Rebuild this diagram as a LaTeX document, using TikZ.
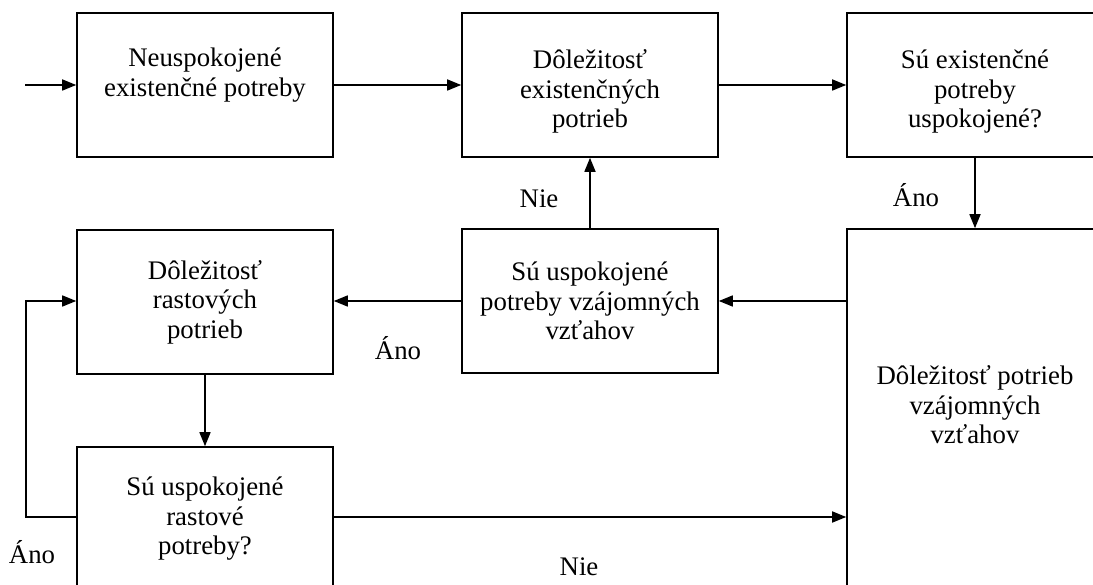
\documentclass[tikz,border=0pt]{standalone}
\usepackage{fontspec}
\setmainfont{Liberation Serif}
\usetikzlibrary{arrows.meta,fit}
\begin{document}
\begin{tikzpicture}[x=1pt,y=-1pt,
  every node/.style={font=\fontsize{26.8}{29.5}\selectfont},
  box/.style={draw, line width=1.6pt, minimum width=256pt, minimum height=144pt,
    align=center, inner sep=0pt},
  % text of the top row sits a little below the middle of its box
  toprow/.style={text height=92pt, text depth=6pt},
  toprowtwo/.style={text height=29pt, text depth=6pt},
  flow/.style={line width=1.6pt, -{Triangle[length=14pt,width=11pt]}},
  tag/.style={anchor=base, inner sep=0pt}]
\useasboundingbox (0,0) rectangle (1093,585);
\clip (0,0) rectangle (1093,585);

% top row
\node[box, toprowtwo] (b1) at (205,85) {Neuspokojené\\existenčné potreby};
\node[box, toprow] (b2) at (590,85) {Dôležitosť\\existenčných\\potrieb};
\node[box, toprow] (b3) at (975,85) {Sú existenčné\\potreby\\uspokojené?};

% middle row
\node[box] (b4) at (205,302) {Dôležitosť\\rastových\\potrieb};
\node[box] (b5) at (590,301) {Sú uspokojené\\potreby vzájomných\\vzťahov};

% tall box on the right and its caption
\node[draw, line width=1.6pt, inner sep=0pt, fit={(847,229) (1103,640)}] (b6) {};
\node[align=center, inner sep=0pt] (b6text) at (975,405) {Dôležitosť potrieb\\vzájomných\\vzťahov};

% bottom box
\node[box] (b7) at (205,519) {Sú uspokojené\\rastové\\potreby?};

% connectors
\coordinate (in) at (25,85);
\coordinate (loop) at (26,517);
\draw[flow] (in) -- (b1.west);
\draw[flow] (b1.east) -- (b2.west);
\draw[flow] (b2.east) -- (b3.west);
\draw[flow] (b3.south) -- (b3.south |- b6.north);
\draw[flow] (b6.west |- b5.east) -- (b5.east);
\draw[flow] (b5.west) -- (b4.east |- b5.west);
\draw[flow] (b5.north) -- (b2.south);
\draw[flow] (b4.south) -- (b7.north);
\draw[flow] (b7.west |- loop) -- (loop) |- (b4.west |- b5.west);
\draw[flow] (b7.east |- loop) -- (loop -| b6.west);

% branch labels
\node[tag] (nie1) at (539,208) {Nie};
\node[tag] (ano1) at (916,207) {Áno};
\node[tag] (ano2) at (398,360) {Áno};
\node[tag] (ano3) at (32,563) {Áno};
\node[tag] (nie2) at (579,575) {Nie};
\end{tikzpicture}
\end{document}
